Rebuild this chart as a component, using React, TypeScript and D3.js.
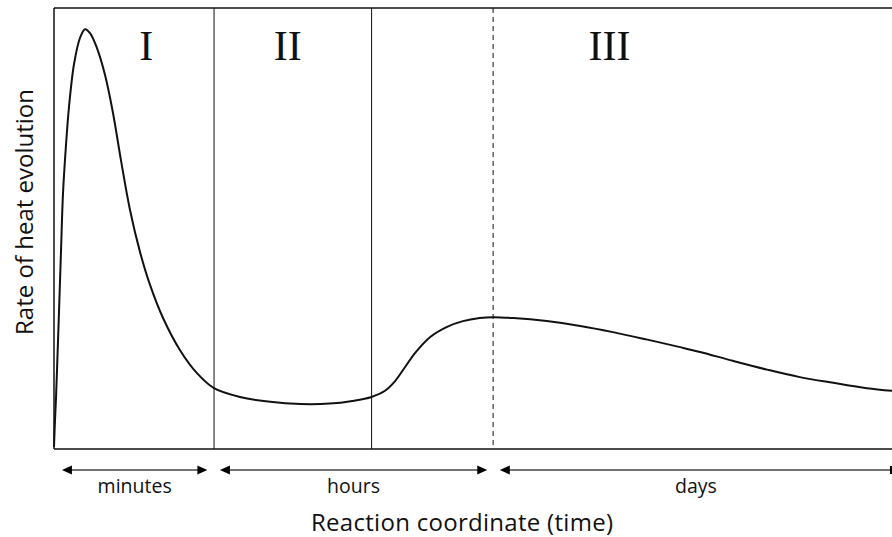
import React from "react";
import * as d3 from "d3";

// Rate of heat evolution vs. reaction coordinate (arbitrary units, 0–100)
const timeValues = [
  0, 0.12, 0.24, 0.42, 0.6, 0.84, 1.07, 1.43, 1.79, 2.39, 3.1, 3.7, 4.3, 5.13, 6.09, 7.04, 7.99, 9.07,
  10.26, 11.46, 13.01, 15.04, 17.06, 19.09, 22.2, 25.8, 29.4, 32.9, 35.6, 37.9, 39.5, 40.7, 41.9, 43.1,
  44.9, 46.9, 48.8, 50.8, 52.4, 54.8, 58.8, 62.8, 66.7, 70.8, 74.7, 77.1, 81.0, 85.1, 89.0, 93.0, 97.0,
  100,
];
const rateValues = [
  0.45, 6.6, 11.6, 21.3, 31.3, 45.1, 57.8, 68.9, 77.6, 87.3, 93.2, 95.2, 94.3, 90.9, 84.8, 76.2, 65.5,
  54.2, 44.7, 37.2, 29.7, 22.4, 17.2, 13.8, 11.8, 10.7, 10.2, 10.3, 10.9, 11.8, 13.2, 15.4, 18.6, 21.8,
  25.4, 27.7, 29.0, 29.7, 29.9, 29.7, 29.0, 27.9, 26.5, 24.8, 23.1, 22.0, 20.0, 18.0, 16.3, 15.0, 13.8,
  13.2,
];

// Stage boundaries (solid, solid, dashed)
const boundaries = [19.1, 37.9, 52.4];
const boundaryDashed = [false, false, true];

// Stage labels
const stageNames = ["I", "II", "III"];
const stagePositions = [11.0, 27.9, 66.3];

// Time-scale arrows beneath the axis
const spanLabels = ["minutes", "hours", "days"];
const spanStarts = [0.95, 19.8, 53.2];
const spanEnds = [18.3, 51.7, 100];
const spanHasRightHead = [true, true, false];

const W = 892;
const H = 537;
const left = 54;
const right = 892;
const top = 8;
const bottom = 449;

export default function App() {
  const x = d3.scaleLinear().domain([0, 100]).range([left, right]);
  const y = d3.scaleLinear().domain([0, 100]).range([bottom, top]);

  const points: [number, number][] = timeValues.map((t, i) => [t, rateValues[i]]);
  const line = d3
    .line<[number, number]>()
    .x((d) => x(d[0]))
    .y((d) => y(d[1]))
    .curve(d3.curveCatmullRom.alpha(0.5));

  const arrowY = 470;
  const headL = 10;
  const headH = 4.5;
  const sans = "'Open Sans', 'Noto Sans', sans-serif";

  return (
    <svg
      width={W}
      height={H}
      viewBox={`0 0 ${W} ${H}`}
      style={{ position: "absolute", left: 0, top: 0, background: "#fff" }}
    >
      {/* frame */}
      <line x1={left} x2={right} y1={top} y2={top} stroke="#111" strokeWidth={1.5} />
      <line x1={left} x2={right} y1={bottom} y2={bottom} stroke="#111" strokeWidth={1.5} />
      <line x1={left} x2={left} y1={top} y2={bottom} stroke="#111" strokeWidth={1.5} />

      {/* stage boundaries */}
      {boundaries.map((b, i) => (
        <line
          key={`b${i}`}
          x1={x(b)}
          x2={x(b)}
          y1={top}
          y2={bottom}
          stroke="#111"
          strokeWidth={1}
          strokeDasharray={boundaryDashed[i] ? "5,4" : undefined}
        />
      ))}

      {/* stage labels */}
      {stageNames.map((s, i) => (
        <text
          key={s}
          x={x(stagePositions[i])}
          y={60}
          textAnchor="middle"
          fontFamily="'Liberation Serif', 'DejaVu Serif', serif"
          fontSize={42}
          fill="#111"
        >
          {s}
        </text>
      ))}

      {/* heat evolution curve */}
      <path d={line(points) ?? ""} fill="none" stroke="#111" strokeWidth={2} />

      {/* time-scale arrows */}
      {spanLabels.map((lab, i) => {
        const x0 = x(spanStarts[i]);
        const x1 = x(spanEnds[i]);
        return (
          <g key={lab}>
            <line
              x1={x0 + 4}
              x2={spanHasRightHead[i] ? x1 - 4 : x1}
              y1={arrowY}
              y2={arrowY}
              stroke="#444"
              strokeWidth={1.7}
            />
            <path
              d={`M${x0},${arrowY} L${x0 + headL},${arrowY - headH} L${x0 + headL},${arrowY + headH} Z`}
              fill="#000"
            />
            {spanHasRightHead[i] ? (
              <path
                d={`M${x1},${arrowY} L${x1 - headL},${arrowY - headH} L${x1 - headL},${arrowY + headH} Z`}
                fill="#000"
              />
            ) : (
              <line x1={x1 - 1} x2={x1 - 1} y1={arrowY - 4} y2={arrowY + 4} stroke="#000" strokeWidth={2} />
            )}
            <text
              x={(x0 + x1) / 2}
              y={493}
              textAnchor="middle"
              fontFamily={sans}
              fontSize={19.5}
              fill="#111"
            >
              {lab}
            </text>
          </g>
        );
      })}

      {/* axis titles */}
      <text
        x={462}
        y={531}
        textAnchor="middle"
        fontFamily={sans}
        fontSize={24}
        textLength={302}
        lengthAdjust="spacing"
        fill="#111"
      >
        Reaction coordinate (time)
      </text>
      <text
        transform={`translate(33, 212) rotate(-90)`}
        textAnchor="middle"
        fontFamily={sans}
        fontSize={24}
        fill="#111"
      >
        Rate of heat evolution
      </text>
    </svg>
  );
}
